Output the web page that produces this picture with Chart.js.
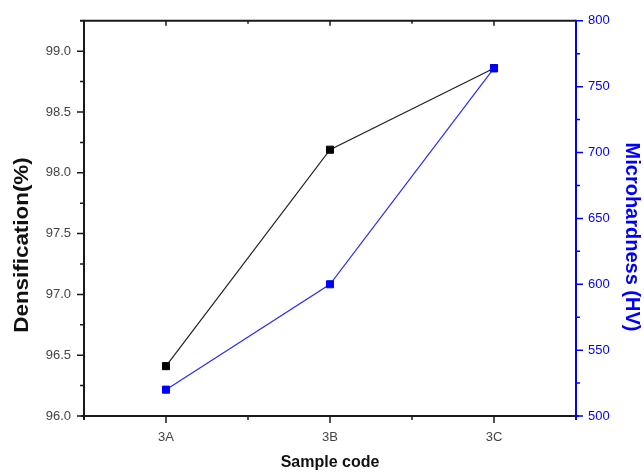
<!DOCTYPE html>
<html>
<head>
<meta charset="utf-8">
<script src="https://cdn.jsdelivr.net/npm/chart.js@4"></script>
<style>
html,body{margin:0;padding:0;background:#fff;}
canvas{display:block;}
</style>
</head>
<body>
<canvas id="c" width="644" height="475"></canvas>
<script>
const categories = ['3A', '3B', '3C'];
const densification = [96.41, 98.19, 98.86];
const microhardness = [520, 600, 764];
const leftTicks = [96.0, 96.5, 97.0, 97.5, 98.0, 98.5, 99.0];
const rightTicks = [500, 550, 600, 650, 700, 750, 800];
const xTitle = 'Sample code';
const leftTitle = 'Densification(%)';
const rightTitle = 'Microhardness (HV)';

const FONT = '"Liberation Sans", Arial, sans-serif';
const BLUE = '#0000ff';

const frame = {
  id: 'frame',
  afterDatasetsDraw(chart) {
    const ctx = chart.ctx;
    const a = chart.chartArea;
    const x = chart.scales.x, yl = chart.scales.y, yr = chart.scales.y1;
    ctx.save();
    ctx.lineCap = 'butt';
    ctx.strokeStyle = '#1a1a1a';
    ctx.lineWidth = 2;
    ctx.beginPath();
    ctx.moveTo(a.left - 4, a.top); ctx.lineTo(a.right, a.top);
    ctx.moveTo(a.left, a.top - 1); ctx.lineTo(a.left, a.bottom + 4);
    ctx.moveTo(a.left - 3, a.bottom); ctx.lineTo(a.right + 3, a.bottom);
    ctx.stroke();
    ctx.lineWidth = 1.5;
    ctx.beginPath();
    leftTicks.forEach((v, i) => {
      const p = yl.getPixelForValue(v);
      ctx.moveTo(a.left, p); ctx.lineTo(a.left - 7, p);
      if (i < leftTicks.length - 1) {
        const q = yl.getPixelForValue((v + leftTicks[i + 1]) / 2);
        ctx.moveTo(a.left, q); ctx.lineTo(a.left - 4, q);
      }
    });
    categories.forEach((c, i) => {
      const p = x.getPixelForValue(i);
      ctx.moveTo(p, a.bottom); ctx.lineTo(p, a.bottom + 7);
      ctx.moveTo(p, a.top); ctx.lineTo(p, a.top + 5);
      if (i < categories.length - 1) {
        const q = (p + x.getPixelForValue(i + 1)) / 2;
        ctx.moveTo(q, a.bottom); ctx.lineTo(q, a.bottom + 4);
        ctx.moveTo(q, a.top); ctx.lineTo(q, a.top + 3);
      }
    });
    ctx.stroke();
    ctx.strokeStyle = BLUE;
    ctx.lineWidth = 2;
    ctx.beginPath();
    ctx.moveTo(a.right, a.top - 1); ctx.lineTo(a.right, a.bottom + 4);
    ctx.stroke();
    ctx.lineWidth = 1.5;
    ctx.beginPath();
    rightTicks.forEach((v, i) => {
      const p = yr.getPixelForValue(v);
      ctx.moveTo(a.right, p); ctx.lineTo(a.right + 7, p);
      if (i < rightTicks.length - 1) {
        const q = yr.getPixelForValue((v + rightTicks[i + 1]) / 2);
        ctx.moveTo(a.right, q); ctx.lineTo(a.right + 4, q);
      }
    });
    ctx.stroke();
    ctx.textAlign = 'center';
    ctx.textBaseline = 'middle';
    ctx.fillStyle = '#111';
    ctx.font = 'bold 16px ' + FONT;
    ctx.fillText(xTitle, (a.left + a.right) / 2, 463);
    ctx.save();
    ctx.translate(22, 245);
    ctx.rotate(-Math.PI / 2);
    ctx.scale(1.12, 1);
    ctx.font = 'bold 20px ' + FONT;
    ctx.fillText(leftTitle, 0, 0);
    ctx.restore();
    ctx.save();
    ctx.translate(632, 237);
    ctx.rotate(Math.PI / 2);
    ctx.font = 'bold 20px ' + FONT;
    ctx.fillStyle = BLUE;
    ctx.fillText(rightTitle, 0, 0);
    ctx.restore();
    ctx.restore();
  }
};

new Chart(document.getElementById('c'), {
  type: 'line',
  data: {
    labels: categories,
    datasets: [
      {
        label: 'Densification',
        data: densification,
        yAxisID: 'y',
        borderColor: '#222',
        backgroundColor: '#000',
        borderWidth: 1.2,
        pointStyle: 'rect',
        pointRadius: 5,
        pointBorderWidth: 1,
        pointBorderColor: '#000',
        tension: 0,
        order: 2
      },
      {
        label: 'Microhardness',
        data: microhardness,
        yAxisID: 'y1',
        borderColor: '#2a2aff',
        backgroundColor: BLUE,
        borderWidth: 1.2,
        pointStyle: 'rect',
        pointRadius: 5,
        pointBorderWidth: 1,
        pointBorderColor: BLUE,
        tension: 0,
        order: 1
      }
    ]
  },
  options: {
    responsive: false,
    animation: false,
    devicePixelRatio: 1,
    layout: { padding: { top: 16, left: 0, right: 0, bottom: 0 } },
    plugins: { legend: { display: false }, tooltip: { enabled: false } },
    scales: {
      x: {
        type: 'category',
        offset: true,
        grid: { display: false, drawTicks: false },
        border: { display: false },
        ticks: { color: '#444', font: { family: FONT, size: 13 }, padding: 14, maxRotation: 0 },
        afterFit(s) { s.height = 59; }
      },
      y: {
        position: 'left',
        min: 96.0,
        max: 99.25,
        grid: { display: false, drawTicks: false },
        border: { display: false },
        afterBuildTicks(s) { s.ticks = leftTicks.map(v => ({ value: v })); },
        ticks: { color: '#444', font: { family: FONT, size: 13 }, padding: 13,
                 callback: v => Number(v).toFixed(1) },
        afterFit(s) { s.width = 84; }
      },
      y1: {
        position: 'right',
        min: 500,
        max: 800,
        grid: { display: false, drawTicks: false },
        border: { display: false },
        afterBuildTicks(s) { s.ticks = rightTicks.map(v => ({ value: v })); },
        ticks: { color: BLUE, font: { family: FONT, size: 13 }, padding: 12 },
        afterFit(s) { s.width = 68; }
      }
    }
  },
  plugins: [frame]
});
</script>
</body>
</html>
